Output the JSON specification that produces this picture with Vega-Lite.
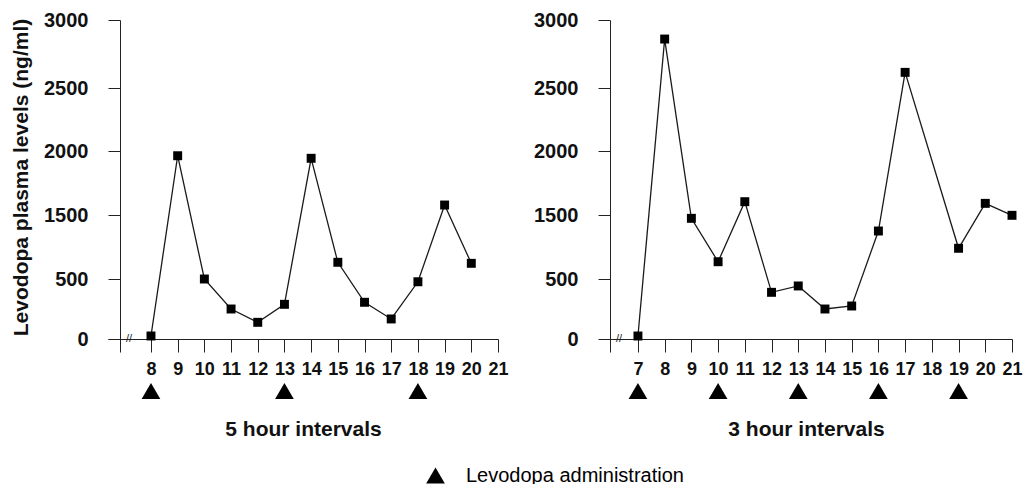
{
  "$schema": "https://vega.github.io/schema/vega-lite/v6.json",
  "background": "white",
  "padding": {"left": 10, "top": 10, "right": 5, "bottom": 5},
  "datasets": {
    "five": [
      {"hour": 8, "level": 25},
      {"hour": 9, "level": 1963},
      {"hour": 10, "level": 500},
      {"hour": 11, "level": 250},
      {"hour": 12, "level": 139},
      {"hour": 13, "level": 289},
      {"hour": 14, "level": 1943},
      {"hour": 15, "level": 761},
      {"hour": 16, "level": 306},
      {"hour": 17, "level": 167},
      {"hour": 18, "level": 477},
      {"hour": 19, "level": 1578},
      {"hour": 20, "level": 745}
    ],
    "three": [
      {"hour": 7, "level": 25},
      {"hour": 8, "level": 2860},
      {"hour": 9, "level": 1448},
      {"hour": 10, "level": 770},
      {"hour": 11, "level": 1604},
      {"hour": 12, "level": 389},
      {"hour": 13, "level": 442},
      {"hour": 14, "level": 250},
      {"hour": 15, "level": 275},
      {"hour": 16, "level": 1250},
      {"hour": 17, "level": 2615},
      {"hour": 19, "level": 980},
      {"hour": 20, "level": 1591},
      {"hour": 21, "level": 1495}
    ],
    "doseFive": [{"hour": 8}, {"hour": 13}, {"hour": 18}],
    "doseThree": [{"hour": 7}, {"hour": 10}, {"hour": 13}, {"hour": 16}, {"hour": 19}]
  },
  "config": {
    "font": "Liberation Sans",
    "view": {"stroke": null},
    "axis": {
      "grid": false,
      "domainColor": "#222",
      "tickColor": "#222",
      "labelColor": "#111",
      "titleColor": "#111",
      "labelFont": "Liberation Sans",
      "titleFont": "Liberation Sans",
      "labelFontWeight": "bold",
      "titleFontWeight": "bold",
      "labelFlush": false,
      "labelOverlap": false,
      "tickCount": 40
    },
    "legend": {"labelFont": "Liberation Sans"}
  },
  "spacing": 24,
  "resolve": {"scale": {"shape": "shared"}, "legend": {"shape": "shared"}},
  "hconcat": [
    {
      "width": 390,
      "height": 332,
      "layer": [
        {
          "data": {"name": "five"},
          "mark": {"type": "line", "color": "#1a1a1a", "strokeWidth": 1.3},
          "encoding": {
            "x": {
              "field": "hour", "type": "quantitative",
              "scale": {"domain": [6.39, 21], "nice": false, "zero": false},
              "axis": {
                "values": [8, 9, 10, 11, 12, 13, 14, 15, 16, 17, 18, 19, 20, 21], "tickCount": 40,
                "format": "d", "offset": -13, "tickSize": 13, "labelPadding": 8, "labelOverlap": false,
                "labelFontSize": 18, "title": "5 hour intervals", "titleFontSize": 21, "titlePadding": 40
              }
            },
            "y": {
              "field": "level", "type": "quantitative",
              "scale": {"domain": [-200, 0, 500, 1500, 2000, 2500, 3000], "range": [332, 319, 259, 195, 131, 68, 0], "nice": false, "zero": false},
              "axis": {
                "values": [0, 500, 1500, 2000, 2500, 3000], "tickCount": 40,
                "format": "d", "offset": -12, "tickSize": 12, "labelPadding": 20, "labelOverlap": false,
                "labelFontSize": 20, "title": "Levodopa plasma levels (ng/ml)", "titleFontSize": 21, "titlePadding": 12, "titleY": 157
              }
            }
          }
        },
        {
          "data": {"name": "five"},
          "mark": {"type": "point", "shape": "square", "filled": true, "size": 80, "color": "#000", "opacity": 1},
          "encoding": {
            "x": {"field": "hour", "type": "quantitative"},
            "y": {"field": "level", "type": "quantitative"}
          }
        },
        {
          "data": {"name": "doseFive"},
          "mark": {"type": "point", "shape": "triangle-up", "filled": true, "size": 350, "color": "#000", "opacity": 1, "yOffset": 52},
          "encoding": {
            "x": {"field": "hour", "type": "quantitative"},
            "y": {"datum": 0},
            "shape": {"datum": "Levodopa administration", "scale": {"range": ["triangle-up"]},
              "legend": {"title": null, "orient": "none", "legendX": 317, "legendY": 445, "labelFontSize": 20, "labelFontWeight": "normal", "labelLimit": 0, "symbolSize": 350, "symbolFillColor": "#000", "symbolStrokeColor": "#000", "labelOffset": 20}}
          }
        },
        {
          "data": {"values": [{}]},
          "mark": {"type": "text", "text": "//", "fontSize": 11, "color": "#222"},
          "encoding": {"x": {"datum": 7.18}, "y": {"datum": 0}}
        }
      ]
    },
    {
      "width": 412,
      "height": 332,
      "layer": [
        {
          "data": {"name": "three"},
          "mark": {"type": "line", "color": "#1a1a1a", "strokeWidth": 1.3},
          "encoding": {
            "x": {
              "field": "hour", "type": "quantitative",
              "scale": {"domain": [5.58, 21], "nice": false, "zero": false},
              "axis": {
                "values": [7, 8, 9, 10, 11, 12, 13, 14, 15, 16, 17, 18, 19, 20, 21], "tickCount": 40,
                "format": "d", "offset": -13, "tickSize": 13, "labelPadding": 8, "labelOverlap": false,
                "labelFontSize": 18, "title": "3 hour intervals", "titleFontSize": 21, "titlePadding": 40
              }
            },
            "y": {
              "field": "level", "type": "quantitative",
              "scale": {"domain": [-200, 0, 500, 1500, 2000, 2500, 3000], "range": [332, 319, 259, 195, 131, 68, 0], "nice": false, "zero": false},
              "axis": {
                "values": [0, 500, 1500, 2000, 2500, 3000], "tickCount": 40,
                "format": "d", "offset": -10, "tickSize": 12, "labelPadding": 20, "labelOverlap": false,
                "labelFontSize": 20, "title": null
              }
            }
          }
        },
        {
          "data": {"name": "three"},
          "mark": {"type": "point", "shape": "square", "filled": true, "size": 80, "color": "#000", "opacity": 1},
          "encoding": {
            "x": {"field": "hour", "type": "quantitative"},
            "y": {"field": "level", "type": "quantitative"}
          }
        },
        {
          "data": {"name": "doseThree"},
          "mark": {"type": "point", "shape": "triangle-up", "filled": true, "size": 350, "color": "#000", "opacity": 1, "yOffset": 52},
          "encoding": {
            "x": {"field": "hour", "type": "quantitative"},
            "y": {"datum": 0},
            "shape": {"datum": "Levodopa administration"}
          }
        },
        {
          "data": {"values": [{}]},
          "mark": {"type": "text", "text": "//", "fontSize": 11, "color": "#222"},
          "encoding": {"x": {"datum": 6.29}, "y": {"datum": 0}}
        }
      ]
    }
  ]
}
